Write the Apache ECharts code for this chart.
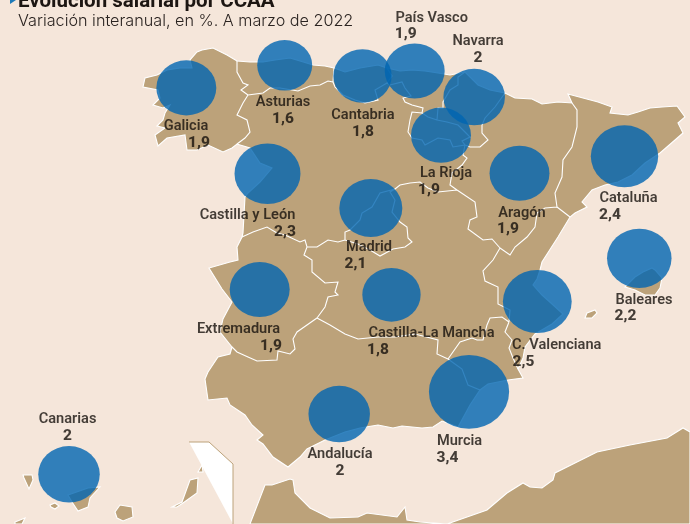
<!DOCTYPE html>
<html>
<head>
<meta charset="utf-8">
<style>
html, body { margin: 0; padding: 0; background: #f5e6da; }
#chart { width: 690px; height: 524px; }
</style>
<script src="https://cdn.jsdelivr.net/npm/echarts@6/dist/echarts.min.js"></script>
</head>
<body>
<div id="chart"></div>
<script>
/* globals echarts */

// Datos: comunidades, variación salarial y situación de cada burbuja (lon, lat)
const regions = ["Galicia", "Asturias", "Cantabria", "País Vasco", "Navarra", "La Rioja", "Aragón", "Cataluña", "Castilla y León", "Madrid", "Extremadura", "Castilla-La Mancha", "Andalucía", "Murcia", "C. Valenciana", "Baleares", "Canarias"];
const wageGrowth = [1.9, 1.6, 1.8, 1.9, 2, 1.9, 1.9, 2.4, 2.3, 2.1, 1.9, 1.8, 2, 3.4, 2.5, 2.2, 2];
const valueLabels = ["1,9", "1,6", "1,8", "1,9", "2", "1,9", "1,9", "2,4", "2,3", "2,1", "1,9", "1,8", "2", "3,4", "2,5", "2,2", "2"];
const bubbleLon = [-8.564, -6.221, -4.369, -3.126, -1.71, -2.5, -0.631, 1.869, -6.631, -4.171, -6.817, -3.679, -4.924, -1.833, -0.207, 2.221, -11.357];
const bubbleLat = [43.04, 43.462, 43.262, 43.355, 42.87, 42.158, 41.447, 41.764, 41.439, 40.799, 39.279, 39.18, 36.956, 37.37, 39.055, 39.861, 35.831];

// Colocación de los rótulos respecto a la burbuja
const nameOffsets = [[-0.3, 37], [-1.7, 35.7], [0.5, 38], [17, -54], [3.8, -57], [5, 36.8], [2.5, 38.7], [4, 40.7], [-20, 40.3], [-1.8, 38], [-21.2, 38.5], [40, 37.2], [0.8, 39], [-9.5, 48.2], [19.4, 42.5], [4.7, 40.7], [-1.5, -56.3]];
const valueOffsets = [[12.7, 54], [-1.7, 52.7], [0.5, 55], [-9, -38], [3.8, -40], [-12, 53.8], [-11.5, 54.7], [-14.5, 57.7], [17.5, 57.3], [-15.3, 55], [11.3, 55.5], [-13.5, 54.2], [0.8, 56], [-21.5, 65.2], [-13.8, 59.5], [-13.8, 56.7], [-1.5, -39.3]];

// Silueta calcada de la imagen (unidades de calco, se pasan a lon/lat abajo)
const peninsula = [[202,50],[213,48],[227,55],[237,61],[250,62],[263,62],[275,60],[290,58],[300,61],[313,65],[325,66],[334,68],[345,72],[360,68],[378,65],[387,68],[400,71],[412,70],[425,71],[438,73],[450,75],[465,72],[478,85],[490,90],[505,93],[515,98],[532,99],[542,104],[558,102],[572,103],[568,94],[583,98],[598,102],[612,107],[610,113],[628,115],[638,112],[650,108],[662,107],[677,106],[685,117],[678,123],[683,133],[675,140],[660,153],[645,163],[632,175],[618,182],[605,185],[592,190],[582,202],[587,207],[575,213],[570,217],[558,237],[542,262],[540,270],[537,279],[533,285],[542,295],[552,304],[563,314],[552,324],[535,334],[525,347],[523,358],[518,369],[523,378],[508,380],[488,384],[480,390],[470,405],[458,427],[442,421],[433,427],[422,428],[402,426],[393,428],[378,425],[360,428],[345,432],[325,440],[307,449],[300,457],[288,467],[273,457],[263,444],[257,440],[263,435],[252,425],[245,415],[230,405],[227,398],[208,400],[205,379],[208,372],[218,357],[230,354],[232,347],[220,332],[223,319],[232,302],[222,289],[209,268],[230,262],[238,260],[237,247],[242,237],[243,233],[245,197],[248,193],[260,182],[272,168],[260,163],[250,148],[237,144],[232,148],[223,152],[208,145],[197,150],[187,150],[185,135],[167,138],[158,146],[155,135],[165,128],[157,126],[163,120],[165,113],[170,105],[163,108],[153,105],[160,98],[158,90],[143,87],[145,78],[157,75],[167,70],[180,68],[192,68],[190,60],[197,52]];
const islands = [
    [[625,287],[635,290],[645,295],[655,295],[660,288],[662,278],[655,270],[652,268],[643,272],[635,277]],
    [[585,318],[587,313],[595,310],[597,313],[592,318]],
    [[23,475],[32,475],[33,480],[29,489],[24,478]],
    [[50,505],[55,503],[59,506],[55,509],[51,507]],
    [[68,495],[88,488],[100,487],[90,498],[88,507],[78,511],[72,502]],
    [[115,512],[120,505],[132,507],[133,517],[123,521],[117,518]],
    [[15,522],[25,518],[22,524],[15,524]],
    [[172,507],[182,502],[190,480],[198,478],[197,493],[183,503],[177,507]],
    [[198,472],[202,465],[203,472]]
];
const morocco = [[250,524],[265,485],[272,485],[290,479],[293,480],[295,493],[310,508],[330,518],[358,517],[367,513],[397,517],[405,507],[407,520],[420,522],[447,524],[487,510],[507,493],[523,483],[530,487],[542,488],[553,480],[555,473],[577,462],[597,452],[630,445],[667,438],[683,428],[690,432],[690,524]];
const insetBox = [[189,442],[209,442],[233,464],[233,524]];
const borders = [
    [[237,61],[237,72],[243,83],[248,85],[241,90],[248,95]],
    [[248,95],[243,103],[237,115],[247,120],[250,132],[245,138],[237,144]],
    [[248,95],[263,93],[270,88],[280,88],[298,91],[310,86],[320,85],[328,81],[333,82]],
    [[334,68],[333,82]],
    [[333,82],[335,87],[343,95],[355,100],[365,103],[378,100],[375,90],[387,83]],
    [[387,68],[392,76],[387,83]],
    [[387,83],[390,85],[402,82],[405,88],[411,96],[403,98],[405,102],[412,105],[423,108],[422,113]],
    [[422,113],[412,112],[410,120],[408,132],[412,138],[422,140],[425,145],[438,138],[450,140],[453,147],[465,145]],
    [[422,113],[428,117],[437,120],[447,122],[458,125],[465,132],[470,137],[462,141],[465,145]],
    [[437,120],[438,108],[443,108],[443,102],[450,90],[458,85],[458,77],[465,72]],
    [[465,145],[470,147],[480,147],[488,140],[482,133],[482,125],[485,118],[495,107],[505,93]],
    [[465,145],[463,155],[467,158],[462,165],[452,173],[450,185],[457,190]],
    [[457,190],[438,192],[428,188],[420,182],[410,183],[400,185],[395,189]],
    [[395,189],[380,193],[372,207],[362,213],[360,220],[350,230],[345,232],[345,240]],
    [[345,240],[338,242],[328,240],[317,247],[307,247],[305,240],[300,242],[285,235],[277,233],[267,227],[253,232],[242,237]],
    [[395,189],[390,192],[395,200],[392,212],[400,222],[407,227],[408,238],[412,242],[405,247],[393,249],[380,256],[370,250],[358,244],[345,240]],
    [[307,247],[304,255],[312,260],[312,272],[325,283],[338,282],[335,292],[338,295],[328,297],[325,307],[317,318]],
    [[317,318],[297,332],[293,339],[295,349],[290,354],[278,351],[277,360],[257,361],[248,357],[237,352],[232,347]],
    [[317,318],[330,325],[345,334],[358,339],[378,337],[395,337],[415,334],[438,340],[437,354],[448,359]],
    [[448,359],[460,342],[472,338],[477,340],[483,340],[487,325],[490,318],[502,317],[509,322]],
    [[509,322],[510,310],[498,304],[498,287],[485,281],[483,271],[493,260],[500,248]],
    [[457,190],[475,202],[477,217],[470,220],[468,229],[483,240],[492,239],[500,248]],
    [[500,248],[510,255],[515,247],[527,237],[535,227],[537,213],[545,208],[557,207]],
    [[557,207],[555,193],[562,177],[563,160],[572,147],[577,127],[577,110],[572,103]],
    [[557,207],[570,217]],
    [[509,322],[505,332],[512,340],[509,348],[513,358],[518,369]],
    [[448,359],[462,369],[468,385],[480,390]]
];

const LON_SCALE = 42;
const LAT_SCALE = 53.6;
const LON_0 = -13;
const LAT_0 = 44.68;

function toGeo(line) {
    return line.map((p) => [LON_0 + p[0] / LON_SCALE, LAT_0 - p[1] / LAT_SCALE]);
}

function feature(name, type, coordinates) {
    return { type: "Feature", properties: { name: name }, geometry: { type: type, coordinates: coordinates } };
}

const closed = (line) => toGeo(line.concat([line[0]]));

echarts.registerMap("espana", {
    type: "FeatureCollection",
    features: [
        feature("marruecos", "Polygon", [closed(morocco)]),
        feature("peninsula", "Polygon", [closed(peninsula)]),
        feature("islas", "MultiPolygon", islands.map((i) => [closed(i)])),
        feature("recuadro", "Polygon", [closed(insetBox)]),
        feature("recuadroLinea", "LineString", toGeo(insetBox)),
        feature("fronteras", "MultiLineString", borders.map(toGeo))
    ]
});

const chart = echarts.init(document.getElementById("chart"));

const points = regions.map((name, i) => ({
    name: name,
    value: [bubbleLon[i], bubbleLat[i], wageGrowth[i]]
}));

// La superficie de la burbuja es proporcional al valor
const bubbleSize = (v) => [43.5 * Math.sqrt(v[2]), 40 * Math.sqrt(v[2])];

function labelSeries(texts, offsets, font) {
    return {
        type: "scatter",
        coordinateSystem: "geo",
        symbolSize: 0,
        silent: true,
        z: 5,
        data: points.map((p, i) => ({
            name: p.name,
            value: p.value,
            label: {
                show: true,
                position: "inside",
                offset: [offsets[i][0], offsets[i][1] + font.dy],
                formatter: texts[i],
                align: "center",
                verticalAlign: "middle",
                color: "#17110d",
                fontFamily: "Roboto",
                fontSize: font.size,
                fontWeight: font.weight
            }
        }))
    };
}

chart.setOption({
    backgroundColor: "#f5e6da",
    animation: false,
    title: [
        {
            text: "Evolución salarial por CCAA",
            left: 18,
            top: -9,
            padding: 0,
            textStyle: { fontFamily: "Roboto", fontSize: 20.5, fontWeight: 700, color: "#1d1612" }
        },
        {
            text: "Variación interanual, en %. A marzo de 2022",
            left: 18,
            top: 13,
            padding: 0,
            textStyle: { fontFamily: "Inter", fontSize: 16.2, fontWeight: 300, color: "#2a2320" }
        }
    ],
    geo: {
        map: "espana",
        roam: false,
        silent: true,
        left: 0,
        right: 0,
        top: 0,
        bottom: 0,
        aspectScale: LON_SCALE / LAT_SCALE,
        boundingCoords: [[LON_0, LAT_0], [LON_0 + 690 / LON_SCALE, LAT_0 - 524 / LAT_SCALE]],
        label: { show: false },
        itemStyle: { areaColor: "#bca27a", borderColor: "#ffffff", borderWidth: 1.1 },
        regions: [
            { name: "recuadro", itemStyle: { areaColor: "#ffffff", borderWidth: 0 } },
            { name: "recuadroLinea", itemStyle: { borderColor: "#bca27a", borderWidth: 1 } }
        ]
    },
    series: [
        {
            type: "scatter",
            coordinateSystem: "geo",
            silent: true,
            z: 3,
            symbolSize: bubbleSize,
            itemStyle: { color: "#0065b2", opacity: 0.8 },
            data: points
        },
        labelSeries(regions, nameOffsets, { size: 14.6, weight: 600, dy: 1.5 }),
        labelSeries(valueLabels, valueOffsets, { size: 15.5, weight: 800, dy: 1 })
    ],
    graphic: [
        {
            type: "polygon",
            shape: { points: [[10, 0], [16, 0], [10, 4]] },
            style: { fill: "#1f7ab8" }
        }
    ]
});
</script>
</body>
</html>
